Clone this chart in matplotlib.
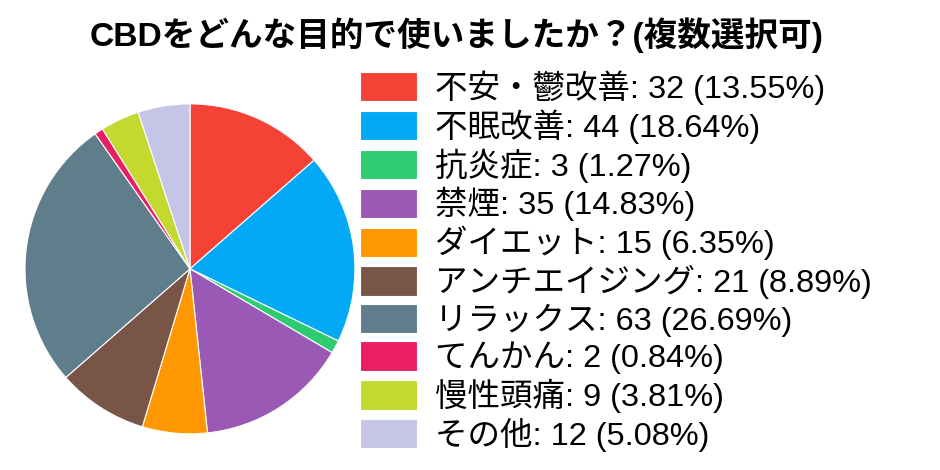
import math
import matplotlib
matplotlib.use("Agg")
import matplotlib.pyplot as plt

plt.rcParams['font.family'] = ['Liberation Sans', 'Noto Sans CJK JP', 'DejaVu Sans']

labels = ["不安・鬱改善", "不眠改善", "抗炎症", "禁煙", "ダイエット",
          "アンチエイジング", "リラックス", "てんかん", "慢性頭痛", "その他"]
counts = [32, 44, 3, 35, 15, 21, 63, 2, 9, 12]
colors = ["#F44336", "#03A9F4", "#2ECC71", "#9B59B6", "#FF9800",
          "#795548", "#607D8B", "#E91E63", "#C3D92F", "#C5C5E8"]

total = sum(counts)
legend_labels = []
for name, v in zip(labels, counts):
    # percentages in the source are truncated, not rounded
    pct = math.floor(v / total * 10000) / 100
    legend_labels.append(f"{name}: {v} ({pct:.2f}%)")

fig = plt.figure(figsize=(9.4, 4.7), dpi=100)
ax = fig.add_axes([0.0266, 0.077, 0.351, 0.702])
wedges, _ = ax.pie(counts, colors=colors, startangle=90, counterclock=False,
                   wedgeprops=dict(edgecolor="white", linewidth=0.8))
ax.set_xlim(-1, 1)
ax.set_ylim(-1, 1)
ax.set_aspect("equal")

fig.text(0.486, 0.925, "CBDをどんな目的で使いましたか？(複数選択可)",
         ha="center", va="center", fontsize=24.2, fontweight="bold")

leg = fig.legend(wedges, legend_labels, loc="upper left",
                 bbox_to_anchor=(360 / 940, 1 - 70 / 470),
                 frameon=False, fontsize=23.4, handlelength=1.75,
                 handleheight=1.02, handletextpad=0.55, labelspacing=0.14,
                 borderpad=0, borderaxespad=0)

fig.savefig("out.png", dpi=100)
